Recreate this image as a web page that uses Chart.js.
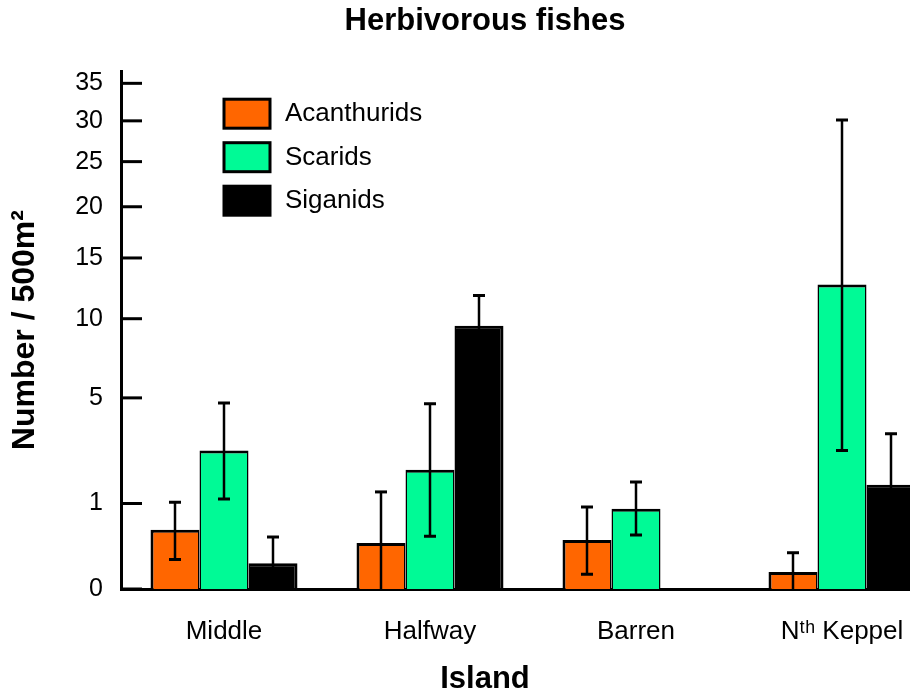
<!DOCTYPE html>
<html>
<head>
<meta charset="utf-8">
<title>Herbivorous fishes</title>
<script src="https://cdn.jsdelivr.net/npm/chart.js@4.4.1/dist/chart.umd.min.js"></script>
<style>
  html, body { margin: 0; padding: 0; background: #fff; overflow: hidden; }
  #wrap { position: relative; width: 970px; height: 695px; }
</style>
</head>
<body>
<div id="wrap"><canvas id="fishes"></canvas></div>
<script>
const islands = ['Middle', 'Halfway', 'Barren', 'N\u1d57\u02b0 Keppel'];
const yTicks = [0, 1, 5, 10, 15, 20, 25, 30, 35];

const acanthurids = [0.48, 0.29, 0.33, 0.04];
const acanthuridsHigh = [1.03, 1.29, 0.92, 0.18];
const acanthuridsLow = [0.12, 0, 0.03, 0];

const scarids = [2.63, 1.95, 0.88, 12.7];
const scaridsHigh = [4.73, 4.70, 1.57, 30.1];
const scaridsLow = [1.11, 0.38, 0.40, 2.63];

const siganids = [0.09, 9.48, 0, 1.49];
const siganidsHigh = [0.37, 11.8, null, 3.30];
const siganidsLow = [0, 7.45, null, 0.39];

Chart.defaults.font.family = '"Liberation Sans", Arial, sans-serif';
Chart.defaults.color = '#000';

// square-root value axis
class SqrtScale extends Chart.LinearScale {
    static id = 'sqrt';
    buildTicks() {
        this.start = this.min;
        this.end = this.max;
        return yTicks.map(v => ({ value: v }));
    }
    getPixelForValue(value) {
        if (value === null || value === undefined || isNaN(value)) return NaN;
        return this.getPixelForDecimal(Math.sqrt(Math.max(value, 0)) / Math.sqrt(this.max));
    }
    getValueForPixel(pixel) {
        const d = this.getDecimalForPixel(pixel) * Math.sqrt(this.max);
        return d * d;
    }
}
Chart.register(SqrtScale);

const errorBars = {
    id: 'errorBars',
    afterDatasetsDraw(chart) {
        const ctx = chart.ctx;
        const y = chart.scales.y;
        ctx.save();
        ctx.strokeStyle = '#000';
        chart.data.datasets.forEach((ds, d) => {
            chart.getDatasetMeta(d).data.forEach((bar, i) => {
                const hi = ds.errHigh[i], lo = ds.errLow[i];
                if (hi == null) return;
                const top = y.getPixelForValue(hi);
                const bot = y.getPixelForValue(lo);
                ctx.lineWidth = 2.5;
                ctx.beginPath();
                ctx.moveTo(bar.x, top);
                ctx.lineTo(bar.x, bot);
                ctx.stroke();
                ctx.lineWidth = 3;
                ctx.beginPath();
                ctx.moveTo(bar.x - 6, top);
                ctx.lineTo(bar.x + 6, top);
                if (lo > 0) {
                    ctx.moveTo(bar.x - 6, bot);
                    ctx.lineTo(bar.x + 6, bot);
                }
                ctx.stroke();
            });
        });
        ctx.restore();
    }
};

// tick marks pointing into the plot + legend inside the plot
const extras = {
    id: 'extras',
    afterDraw(chart) {
        const ctx = chart.ctx;
        const area = chart.chartArea;
        const y = chart.scales.y;
        ctx.save();
        ctx.strokeStyle = '#000';
        ctx.lineWidth = 3;
        y.ticks.forEach(t => {
            const py = y.getPixelForValue(t.value);
            ctx.beginPath();
            ctx.moveTo(area.left, py);
            ctx.lineTo(area.left + 21, py);
            ctx.stroke();
        });

        ctx.font = '26px "Liberation Sans", Arial, sans-serif';
        ctx.textBaseline = 'middle';
        ctx.textAlign = 'left';
        chart.data.datasets.forEach((ds, i) => {
            const bx = area.left + 103;
            const by = area.top + 28 + i * 43.5;
            ctx.fillStyle = ds.backgroundColor;
            ctx.fillRect(bx, by, 46, 29);
            ctx.lineWidth = 3;
            ctx.strokeRect(bx, by, 46, 29);
            ctx.fillStyle = '#000';
            ctx.fillText(ds.label, bx + 61, by + 15);
        });
        ctx.restore();
    }
};

const fishes = new Chart(
    document.getElementById('fishes'),
    config = {
    type: 'bar',
    data: data = {
        labels: islands,
        datasets: [{
            label: 'Acanthurids',
            data: acanthurids,
            errHigh: acanthuridsHigh,
            errLow: acanthuridsLow,
            backgroundColor: '#ff6600',
            borderWidth: { top: 3, left: 3, right: 1.5, bottom: 0 }
        }, {
            label: 'Scarids',
            data: scarids,
            errHigh: scaridsHigh,
            errLow: scaridsLow,
            backgroundColor: '#00fa96',
            borderWidth: { top: 3, left: 1.5, right: 1.5, bottom: 0 }
        }, {
            label: 'Siganids',
            data: siganids,
            errHigh: siganidsHigh,
            errLow: siganidsLow,
            backgroundColor: '#000000',
            borderWidth: { top: 3, left: 1.5, right: 3, bottom: 0 }
        }]
    },
    options: {
        responsive: true,
        maintainAspectRatio: false,
        animation: false,
        layout: { padding: 0 },
        datasets: {
            bar: {
                borderColor: '#000',
                borderSkipped: 'start',
                categoryPercentage: 0.7136,
                barPercentage: 1.0
            }
        },
        scales: {
            x: {
                type: 'category',
                offset: true,
                grid: { display: false, drawTicks: false },
                border: { display: true, color: '#000', width: 3 },
                ticks: {
                    font: { size: 26 },
                    padding: 27,
                    autoSkip: false,
                    maxRotation: 0
                },
                afterFit: s => { s.height = 75; }
            },
            y: {
                type: 'sqrt',
                min: 0,
                max: 36.7,
                grid: { display: false, drawTicks: false },
                border: { display: true, color: '#000', width: 3 },
                ticks: {
                    font: { size: 25 },
                    padding: 18,
                    autoSkip: false,
                    callback: v => String(v)
                },
                title: {
                    display: true,
                    text: 'Number / 500m\u00b2',
                    font: { size: 32, weight: 'bold' },
                    padding: { top: 6, bottom: 0 }
                },
                afterFit: s => { s.width = 121; }
            },
            // empty strip on the right, past the visible window
            edge: {
                type: 'linear',
                position: 'right',
                display: true,
                grid: { display: false, drawTicks: false },
                border: { display: false },
                ticks: { display: false },
                afterFit: s => { s.width = 25; }
            }
        },
        plugins: {
            legend: { display: false },
            tooltip: { enabled: false },
            title: {
                display: true,
                text: 'Herbivorous fishes',
                font: { size: 31, weight: 'bold', lineHeight: 1.2 },
                padding: { top: 3, bottom: 31 }
            },
            subtitle: {
                display: true,
                position: 'bottom',
                text: 'Island',
                font: { size: 31, weight: 'bold', lineHeight: 1 },
                padding: 0
            }
        }
    },
    plugins: [errorBars, extras]
    }
);
</script>
</body>
</html>
